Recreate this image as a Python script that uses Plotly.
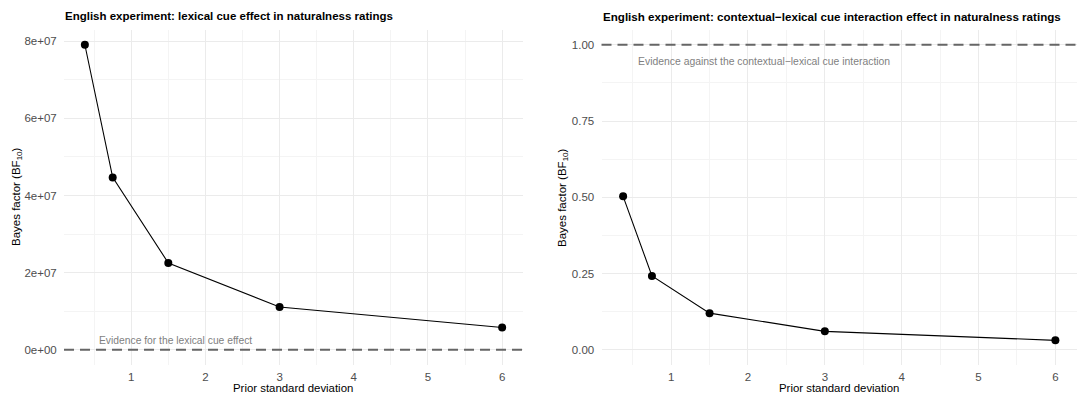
import plotly.graph_objects as go

W, H = 1090, 394

prior_sd = [0.375, 0.75, 1.5, 3, 6]
bf_lexical = [7.91e7, 4.47e7, 2.25e7, 1.11e7, 5.77e6]
bf_interaction = [0.503, 0.242, 0.120, 0.0604, 0.0308]

x_ticks = [1, 2, 3, 4, 5, 6]
y1_ticks = [0, 2e7, 4e7, 6e7, 8e7]
y1_labels = ["0e+00", "2e+07", "4e+07", "6e+07", "8e+07"]
y2_ticks = [0, 0.25, 0.5, 0.75, 1.0]
y2_labels = ["0.00", "0.25", "0.50", "0.75", "1.00"]

title1 = "English experiment: lexical cue effect in naturalness ratings"
title2 = "English experiment: contextual\u2212lexical cue interaction effect in naturalness ratings"
note1 = "Evidence for the lexical cue effect"
note2 = "Evidence against the contextual\u2212lexical cue interaction"
xlab = "Prior standard deviation"
ylab = "Bayes factor (BF<sub>10</sub>)"

FONT = "Liberation Sans, Arial, Helvetica, sans-serif"

def px(v):
    return v / W

def py(v):
    return 1 - v / H

dom1 = [px(64), px(523)]
dom2 = [px(601.5), px(1077)]
ydom = [py(365), py(29.5)]

fig = go.Figure()

fig.add_trace(go.Scatter(x=prior_sd, y=bf_lexical, mode="lines+markers",
                         line=dict(color="black", width=1.1),
                         marker=dict(color="black", size=8),
                         xaxis="x", yaxis="y", showlegend=False))
fig.add_trace(go.Scatter(x=prior_sd, y=bf_interaction, mode="lines+markers",
                         line=dict(color="black", width=1.1),
                         marker=dict(color="black", size=8),
                         xaxis="x2", yaxis="y2", showlegend=False))

xr = [0.375 - 0.05 * 5.625, 6 + 0.05 * 5.625]
y1r = [0 - 0.05 * 7.91e7, 7.91e7 * 1.05]

axis_common = dict(
    showline=False, zeroline=False, ticks="outside",
    tickcolor="rgba(0,0,0,0)",
    gridcolor="#EBEBEB", gridwidth=1,
    tickfont=dict(family=FONT, size=11.5, color="#4D4D4D"),
)

minor_x = dict(showgrid=True, gridcolor="#F4F4F4", tickvals=[0.5, 1.5, 2.5, 3.5, 4.5, 5.5])

fig.update_layout(
    width=W, height=H,
    margin=dict(l=0, r=0, t=0, b=0),
    paper_bgcolor="white", plot_bgcolor="white",
    font=dict(family=FONT),
    xaxis=dict(domain=dom1, range=xr, tickvals=x_ticks, anchor="y",
               ticklen=1, minor=minor_x, **axis_common),
    yaxis=dict(domain=ydom, range=y1r, tickvals=y1_ticks, ticktext=y1_labels, anchor="x",
               ticklen=4,
               minor=dict(showgrid=True, gridcolor="#F4F4F4", tickvals=[1e7, 3e7, 5e7, 7e7]),
               **axis_common),
    xaxis2=dict(domain=dom2, range=xr, tickvals=x_ticks, anchor="y2",
                ticklen=1, minor=minor_x, **axis_common),
    yaxis2=dict(domain=ydom, range=[-0.05, 1.05], tickvals=y2_ticks, ticktext=y2_labels, anchor="x2",
                ticklen=4,
                minor=dict(showgrid=True, gridcolor="#F4F4F4", tickvals=[0.125, 0.375, 0.625, 0.875]),
                **axis_common),
)

dash = "10px,6px"
fig.add_shape(type="line", xref="x domain", yref="y", x0=0, x1=1, y0=0, y1=0,
              line=dict(color="#666666", width=2, dash=dash))
fig.add_shape(type="line", xref="x2 domain", yref="y2", x0=0, x1=1, y0=1, y1=1,
              line=dict(color="#666666", width=2, dash=dash))

ann = []
ann.append(dict(text="<b>" + title1 + "</b>", xref="paper", yref="paper", x=px(63), y=py(16),
                xanchor="left", yanchor="middle", showarrow=False,
                font=dict(family=FONT, size=11.5, color="black")))
ann.append(dict(text="<b>" + title2 + "</b>", xref="paper", yref="paper", x=px(600.5), y=py(17),
                xanchor="left", yanchor="middle", showarrow=False,
                font=dict(family=FONT, size=11.6, color="black")))
ann.append(dict(text=note1, xref="x", yref="y", x=0.54, y=2.5e6,
                xanchor="left", yanchor="middle", showarrow=False,
                font=dict(family=FONT, size=10.3, color="#7F7F7F")))
ann.append(dict(text=note2, xref="x2", yref="y2", x=0.54, y=0.945,
                xanchor="left", yanchor="middle", showarrow=False,
                font=dict(family=FONT, size=10.4, color="#7F7F7F")))
for cx in [(64 + 523) / 2, (601.5 + 1077) / 2]:
    ann.append(dict(text=xlab, xref="paper", yref="paper", x=px(cx), y=py(388),
                    xanchor="center", yanchor="middle", showarrow=False,
                    font=dict(family=FONT, size=11.4, color="black")))
for cx in [17, 563]:
    ann.append(dict(text=ylab, xref="paper", yref="paper", x=px(cx), y=py(197),
                    xanchor="center", yanchor="middle", showarrow=False, textangle=-90,
                    font=dict(family=FONT, size=11.5, color="black")))
fig.update_layout(annotations=ann)

fig.write_html("out.html")
